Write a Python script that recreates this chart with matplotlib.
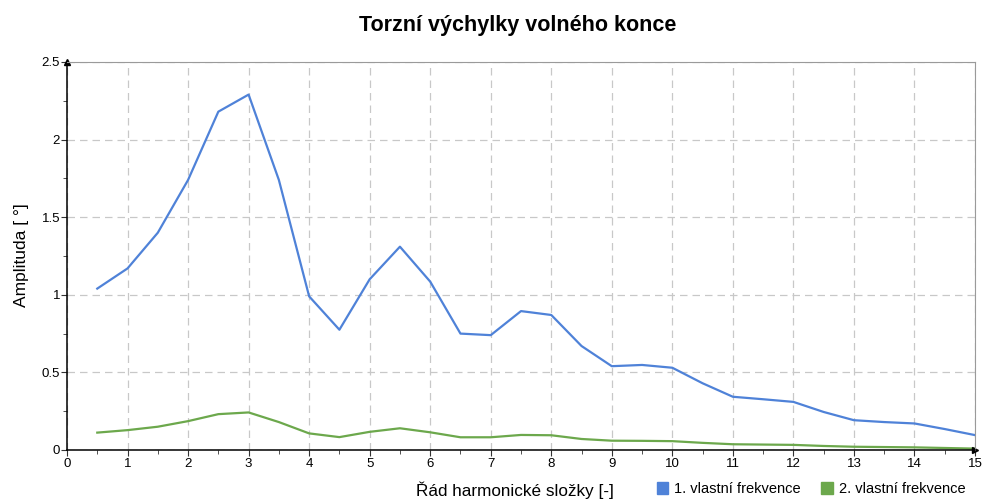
import matplotlib
matplotlib.use("Agg")
import matplotlib.pyplot as plt
from matplotlib.patches import Patch
from matplotlib.ticker import MultipleLocator

plt.rcParams['font.family'] = ['Liberation Sans', 'DejaVu Sans']

# harmonic orders
rad = [0.5, 1, 1.5, 2, 2.5, 3, 3.5, 4, 4.5, 5, 5.5, 6, 6.5, 7, 7.5, 8, 8.5, 9, 9.5, 10,
       10.5, 11, 11.5, 12, 12.5, 13, 13.5, 14, 14.5, 15]
# 1st natural frequency
f1 = [1.04, 1.17, 1.40, 1.74, 2.18, 2.29, 1.74, 0.99, 0.775, 1.10, 1.31, 1.085, 0.75, 0.74, 0.895, 0.87,
      0.67, 0.54, 0.548, 0.53, 0.43, 0.343, 0.327, 0.31, 0.245, 0.192, 0.18, 0.171, 0.135, 0.096]
# 2nd natural frequency
f2 = [0.112, 0.128, 0.15, 0.186, 0.231, 0.242, 0.18, 0.107, 0.083, 0.117, 0.14, 0.114, 0.082, 0.082, 0.097, 0.095,
      0.071, 0.06, 0.059, 0.057, 0.046, 0.037, 0.035, 0.033, 0.026, 0.021, 0.019, 0.017, 0.013, 0.009]
labels = ["1. vlastní frekvence", "2. vlastní frekvence"]
colors = ["#4f82d8", "#6ca84c"]

fig = plt.figure(figsize=(9.83, 5.0), dpi=100)
ax = fig.add_axes([67/983, 50/500, 908/983, 388/500])

ax.plot(rad, f1, color=colors[0], lw=1.6)
ax.plot(rad, f2, color=colors[1], lw=1.6)

ax.set_xlim(0, 15)
ax.set_ylim(0, 2.5)
ax.xaxis.set_major_locator(MultipleLocator(1))
ax.xaxis.set_minor_locator(MultipleLocator(0.5))
ax.yaxis.set_major_locator(MultipleLocator(0.5))
ax.yaxis.set_minor_locator(MultipleLocator(0.25))
ax.set_yticks([0, 0.5, 1, 1.5, 2, 2.5])
ax.set_yticklabels(["0", "0.5", "1", "1.5", "2", "2.5"])

ax.grid(True, which='major', color='#c8c8c8', ls=(0, (6, 4)), lw=0.9)
ax.tick_params(which='both', direction='out', labelsize=9.5, color='#333333')
ax.tick_params(which='major', length=4)
ax.tick_params(which='minor', length=3)
ax.tick_params(axis='x', pad=2)
ax.tick_params(axis='y', pad=1)

for s in ['top', 'right']:
    ax.spines[s].set_color('#9a9a9a')
for s in ['left', 'bottom']:
    ax.spines[s].set_color('black')
    ax.spines[s].set_linewidth(1.1)

# axis arrows
ax.plot(0, 1, marker='^', color='black', ms=5, transform=ax.transAxes, clip_on=False)
ax.plot(1, 0, marker='>', color='black', ms=4, transform=ax.transAxes, clip_on=False)

fig.text(518/983, 1 - 26/500, "Torzní výchylky volného konce", ha='center', va='center',
         fontsize=15.5, fontweight='bold')
fig.text(22/983, 1 - 255/500, "Amplituda [ °]", rotation=90, ha='center', va='center', fontsize=12.5)
fig.text(515/983, 1 - 490/500, "Řád harmonické složky [-]", ha='center', va='center', fontsize=12.3)

handles = [Patch(color=colors[0]), Patch(color=colors[1])]
fig.legend(handles, labels, loc='center', bbox_to_anchor=(811/983, 1 - 489/500), ncol=2,
           frameon=False, fontsize=10.5, handlelength=0.8, handleheight=0.8, handletextpad=0.4,
           columnspacing=1.4, borderpad=0)

fig.savefig("out.png", dpi=100)
